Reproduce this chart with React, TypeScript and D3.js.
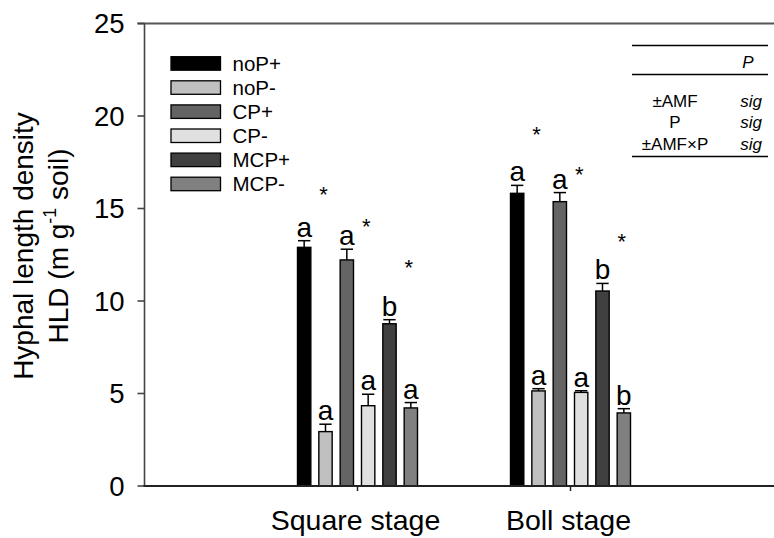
import React from "react";
import * as d3 from "d3";

const stages = ["Square stage", "Boll stage"];
const series = ["noP+", "noP-", "CP+", "CP-", "MCP+", "MCP-"];
const colors = ["#000000", "#c0c0c0", "#646464", "#e0e0e0", "#404040", "#808080"];
const squareMeans = [12.9, 2.94, 12.22, 4.34, 8.77, 4.22];
const squareSE = [0.36, 0.4, 0.58, 0.62, 0.22, 0.29];
const bollMeans = [15.82, 5.14, 15.37, 5.06, 10.54, 3.95];
const bollSE = [0.43, 0.12, 0.49, 0.09, 0.41, 0.23];
const squareLetters = ["a", "a", "a", "a", "b", "a"];
const bollLetters = ["a", "a", "a", "a", "b", "b"];
const starBars = ["noP-", "CP-", "MCP-"];
const squareStars = [16.0, 14.27, 12.05];
const bollStars = [19.24, 17.08, 13.48];
const yTicks = [0, 5, 10, 15, 20, 25];
const tableHeader = "P";
const tableRows = ["±AMF", "P", "±AMF×P"];
const tableValues = ["sig", "sig", "sig"];

const means = [squareMeans, bollMeans];
const ses = [squareSE, bollSE];
const letters = [squareLetters, bollLetters];
const stars = [squareStars, bollStars];

const FONT = "'Liberation Sans', Arial, Helvetica, sans-serif";

export default function App() {
  const W = 774;
  const H = 538;
  const left = 144.5;
  const x = d3.scaleLinear().domain([0, 3]).range([left, left + 3 * 213]);
  const inner = d3
    .scaleBand<string>()
    .domain(series)
    .range([-64, 64])
    .paddingInner(0.375)
    .paddingOuter(0.1875);
  const y = d3.scaleLinear().domain([0, 25]).range([486, 23.5]);
  const bw = inner.bandwidth();

  return (
    <svg
      width={W}
      height={H}
      style={{ position: "absolute", left: 0, top: 0, background: "#fff" }}
      fontFamily={FONT}
    >
      {/* top frame line */}
      <line x1={left - 7} x2={W} y1={y(25)} y2={y(25)} stroke="#555" strokeWidth={2} />
      {/* y axis */}
      <line x1={left} x2={left} y1={y(25)} y2={y(0)} stroke="#444" strokeWidth={1.6} />
      {yTicks.map((t) => (
        <g key={t}>
          <line x1={left - 7} x2={left} y1={y(t)} y2={y(t)} stroke="#444" strokeWidth={1.6} />
          <text x={left - 20} y={y(t) + 9.5} textAnchor="end" fontSize={27.5}>
            {t}
          </text>
        </g>
      ))}
      {/* y title */}
      <text transform={`translate(33,246) rotate(-90)`} textAnchor="middle" fontSize={28}>
        Hyphal length density
      </text>
      <text transform={`translate(68,246) rotate(-90)`} textAnchor="middle" fontSize={28}>
        <tspan>HLD (m g</tspan>
        <tspan fontSize={18} dy={-12}>-1</tspan>
        <tspan dy={12}> soil)</tspan>
      </text>

      {/* bars */}
      {stages.map((s, si) => {
        const cx = x(si + 1);
        return (
          <g key={s}>
            {series.map((name, i) => {
              const bx = cx + (inner(name) as number);
              const m = means[si][i];
              const e = m + ses[si][i];
              return (
                <g key={name}>
                  <line x1={bx + bw / 2} x2={bx + bw / 2} y1={y(m)} y2={y(e)} stroke="#000" strokeWidth={1.5} />
                  <line x1={bx + 0.5} x2={bx + bw - 0.5} y1={y(e)} y2={y(e)} stroke="#000" strokeWidth={1.5} />
                  <rect x={bx} y={y(m)} width={bw} height={y(0) - y(m)} fill={colors[i]} stroke="#000" strokeWidth={1.4} />
                  <text x={bx + bw / 2} y={y(e) - 4} textAnchor="middle" fontSize={28}>
                    {letters[si][i]}
                  </text>
                </g>
              );
            })}
            {starBars.map((name, k) => {
              const bx = cx + (inner(name) as number) + bw / 2 - 2;
              return (
                <text key={name} x={bx} y={y(stars[si][k]) + 12} textAnchor="middle" fontSize={22}>
                  *
                </text>
              );
            })}
            <line x1={cx} x2={cx} y1={y(0)} y2={y(0) + 5} stroke="#222" strokeWidth={1.5} />
            <text x={cx - 2} y={530} textAnchor="middle" fontSize={28.5}>
              {s}
            </text>
          </g>
        );
      })}
      {/* x axis */}
      <line x1={left - 1} x2={W} y1={y(0)} y2={y(0)} stroke="#222" strokeWidth={2} />

      {/* legend */}
      {series.map((name, i) => {
        const top = 56.7 + i * 24.1;
        return (
          <g key={name}>
            <rect x={171} y={top} width={49.5} height={13.5} fill={colors[i]} stroke="#000" strokeWidth={1.3} />
            <text x={232.5} y={top + 14} fontSize={20.5}>
              {name}
            </text>
          </g>
        );
      })}

      {/* table */}
      <g fontSize={17}>
        <line x1={632} x2={768} y1={45.5} y2={45.5} stroke="#000" strokeWidth={1.3} />
        <text x={748} y={68} textAnchor="middle" fontStyle="italic">
          {tableHeader}
        </text>
        <line x1={632} x2={768} y1={74.5} y2={74.5} stroke="#000" strokeWidth={1.3} />
        {tableRows.map((r, i) => (
          <g key={r}>
            <text x={675} y={106.5 + i * 21.5} textAnchor="middle">
              {r}
            </text>
            <text x={751} y={106.5 + i * 21.5} textAnchor="middle" fontStyle="italic">
              {tableValues[i]}
            </text>
          </g>
        ))}
        <line x1={632} x2={768} y1={156.5} y2={156.5} stroke="#000" strokeWidth={1.3} />
      </g>
    </svg>
  );
}
